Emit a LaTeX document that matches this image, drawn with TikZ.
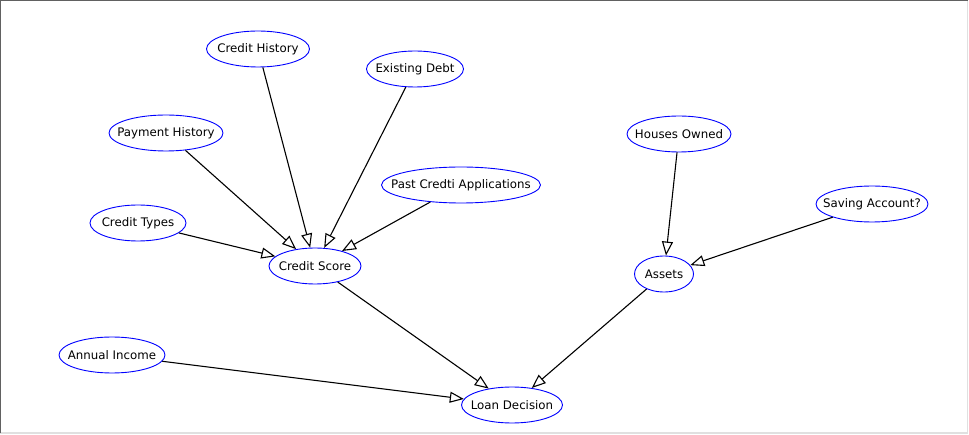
\documentclass[tikz,border=0pt]{standalone}
\usepackage{fontspec}
\setmainfont{DejaVu Sans}
\usepackage{xcolor}
\usepackage{tikz}
\usetikzlibrary{arrows.meta,shapes.geometric}

\begin{document}
\begin{tikzpicture}[x=1pt,y=-1pt,line width=1pt,
    var/.style={ellipse,draw=blue,line width=0.9pt,fill=white,inner xsep=-40pt,inner ysep=0pt,
      minimum height=36pt,minimum width=#1,font=\fontsize{11.8}{13}\selectfont},
    dep/.style={-{Triangle[open,length=14pt,width=11pt]},line width=1.1pt,black}]
    \useasboundingbox (0,0) rectangle (969,435);
    \draw[black!12, line width=1.2pt] (0,433) -- (967.6,433) -- (967.6,0);
    \draw[black!62, line width=1.6pt] (0.5,433) -- (0.5,0.5) -- (967.6,0.5);

    \node[var=103] (credhist) at (258,49) {Credit History};
    \node[var=97]  (debt)     at (415,69) {Existing Debt};
    \node[var=114] (payhist)  at (166,133) {Payment History};
    \node[var=159] (pastapp)  at (461,185) {Past Credti Applications};
    \node[var=96]  (credtype) at (138,223) {Credit Types};
    \node[var=92]  (score)    at (315,266) {Credit Score};
    \node[var=104] (houses)   at (679,134) {Houses Owned};
    \node[var=112] (saving)   at (872,204) {Saving Account?};
    \node[var=59]  (assets)   at (664,274) {Assets};
    \node[var=106] (income)   at (112,355) {Annual Income};
    \node[var=101] (loan)     at (512,405) {Loan Decision};

    \draw[dep] (credhist) -- (score);
    \draw[dep] (debt) -- (score);
    \draw[dep] (payhist) -- (score);
    \draw[dep] (pastapp) -- (score);
    \draw[dep] (credtype) -- (score);
    \draw[dep] (houses) -- (assets);
    \draw[dep] (saving) -- (assets);
    \draw[dep] (score) -- (loan);
    \draw[dep] (assets) -- (loan);
    \draw[dep] (income) -- (loan);
  \end{tikzpicture}
\end{document}
